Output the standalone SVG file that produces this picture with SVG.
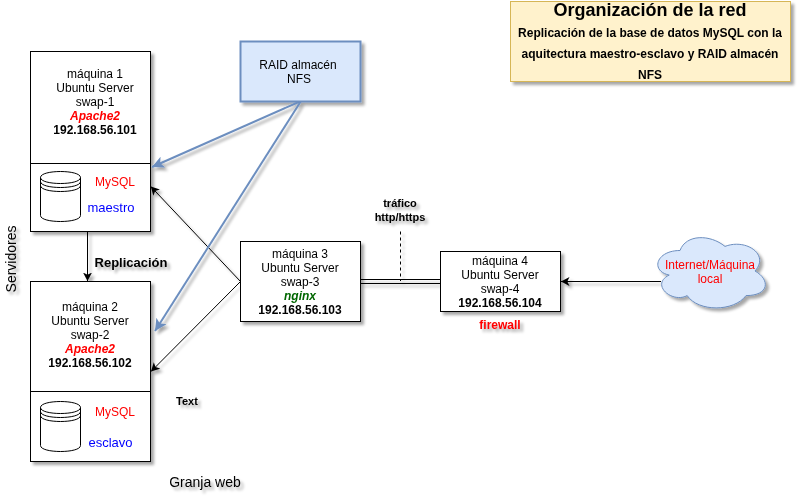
<svg xmlns="http://www.w3.org/2000/svg" width="797" height="498" viewBox="0 0 797 498">
<style>
text{font-family:"Liberation Sans",Arial,sans-serif;font-size:12px;fill:#000;text-anchor:middle}
.b{font-weight:bold}
.box{fill:#fff;stroke:#000;stroke-width:1}
.ln{fill:none;stroke:#000;stroke-width:1}
.blue{fill:none;stroke:#6c8ebf;stroke-width:2}
.red{fill:#f00}
.cyl{fill:#fff;stroke:#000;stroke-width:1}
</style>
<defs>
<filter id="sh" x="-5%" y="-5%" width="110%" height="110%">
<feGaussianBlur in="SourceAlpha" stdDeviation="1.7"/>
<feOffset dx="3" dy="3"/>
<feComponentTransfer><feFuncA type="linear" slope="0.35"/></feComponentTransfer>
<feMerge><feMergeNode/><feMergeNode in="SourceGraphic"/></feMerge>
</filter>
<marker id="a" markerUnits="userSpaceOnUse" markerWidth="10" markerHeight="10" refX="8.500" refY="5" orient="auto"><path d="M0 0.500L8.500 5L0 9.500L2.200 5Z" fill="#000"/></marker>
<marker id="ab" markerUnits="userSpaceOnUse" markerWidth="14" markerHeight="14" refX="12" refY="6" orient="auto"><path d="M0 0L12 6L0 12L3 6Z" fill="#6c8ebf"/></marker>
</defs>
<g filter="url(#sh)">
<g id="connectors">
<path class="ln" d="M87.500 231.500V281" marker-end="url(#a)"/>
<path class="ln" d="M240.500 281.500L150.800 186.500" marker-end="url(#a)"/>
<path class="ln" d="M240.500 281.500L151 371.500" marker-end="url(#a)"/>
<path class="ln" d="M360.500 279.500H440.500M360.500 283.500H440.500"/>
<path class="ln" d="M400.500 231.500V281" stroke-dasharray="3 3"/>
<path class="ln" d="M661 281.500H561" marker-end="url(#a)"/>
<path class="blue" d="M301 101L152 167" marker-end="url(#ab)"/>
<path class="blue" d="M301 101L155 331" marker-end="url(#ab)"/>
</g>
<g id="maquina1">
<rect class="box" x="30.500" y="51.500" width="120" height="180"/>
<path class="ln" d="M30.500 163.500H150.500"/>
<text x="95" y="78">máquina 1</text><text x="95" y="92">Ubuntu Server</text><text x="95" y="106">swap-1</text>
<text x="95" y="120" class="b red" font-style="italic">Apache2</text><text x="95" y="134" class="b">192.168.56.101</text>
<path class="cyl" d="M40.500 177.500C40.500 169.500 80.500 169.500 80.500 177.500V215.500C80.500 223.500 40.500 223.500 40.500 215.500Z"/>
<path class="ln" d="M40.500 177.500C40.500 185.500 80.500 185.500 80.500 177.500M40.500 181.500C40.500 189.500 80.500 189.500 80.500 181.500M40.500 185.500C40.500 193.500 80.500 193.500 80.500 185.500"/>
<text x="115" y="186" class="red">MySQL</text><text x="111" y="212" style="fill:#00f;font-size:13px">maestro</text>
</g>
<g id="maquina2">
<rect class="box" x="30.500" y="281.500" width="120" height="180"/>
<path class="ln" d="M30.500 391.500H150.500"/>
<text x="90" y="311">máquina 2</text><text x="90" y="325">Ubuntu Server</text><text x="90" y="339">swap-2</text>
<text x="90" y="353" class="b red" font-style="italic">Apache2</text><text x="90" y="367" class="b">192.168.56.102</text>
<path class="cyl" d="M40.500 407.500C40.500 399.500 80.500 399.500 80.500 407.500V445.500C80.500 453.500 40.500 453.500 40.500 445.500Z"/>
<path class="ln" d="M40.500 407.500C40.500 415.500 80.500 415.500 80.500 407.500M40.500 411.500C40.500 419.500 80.500 419.500 80.500 411.500M40.500 415.500C40.500 423.500 80.500 423.500 80.500 415.500"/>
<text x="115" y="416" class="red">MySQL</text><text x="110.500" y="447" style="fill:#00f;font-size:13px">esclavo</text>
</g>
<g id="maquina3">
<rect class="box" x="240.500" y="241.500" width="120" height="80"/>
<text x="300" y="258">máquina 3</text><text x="300" y="272">Ubuntu Server</text><text x="300" y="286">swap-3</text>
<text x="300" y="300" class="b" font-style="italic" style="fill:#006600">nginx</text><text x="300" y="314" class="b">192.168.56.103</text>
</g>
<g id="maquina4">
<rect class="box" x="440.500" y="251.500" width="120" height="60"/>
<text x="500" y="265">máquina 4</text><text x="500" y="279">Ubuntu Server</text><text x="500" y="293">swap-4</text>
<text x="500" y="307" class="b">192.168.56.104</text>
</g>
<g id="raid">
<rect x="240.500" y="41.500" width="120" height="60" fill="#dae8fc" stroke="#6c8ebf" stroke-width="2"/>
<text x="298" y="69">RAID almacén</text><text x="299" y="83">NFS</text>
</g>
<g id="cloud">
<path d="M680 250.500C656 250.500 650 271 669.200 275.100C650 284.100 671.600 303.800 687.200 295.600C698 312 734 312 746 295.600C770 295.600 770 279.200 755 271C770 254.600 746 238.200 725 246.400C710 234.100 686 234.100 680 250.500Z" fill="#dae8fc" stroke="#6c8ebf"/>
<text x="710" y="269" class="red">Internet/Máquina</text><text x="710" y="283" class="red">local</text>
</g>
<g id="titulo">
<rect x="510.500" y="1.500" width="280" height="80" fill="#fff2cc" stroke="#d6b656"/>
<text x="650" y="16" class="b" style="font-size:18px">Organización de la red</text>
<text x="650" y="37" class="b">Replicación de la base de datos MySQL con la</text>
<text x="650" y="58" class="b">aquitectura maestro-esclavo y RAID almacén</text>
<text x="650" y="79" class="b">NFS</text>
</g>
<g id="etiquetas">
<text x="131" y="267" class="b" style="font-size:13px">Replicación</text>
<text x="187" y="405" class="b" style="font-size:11px">Text</text>
<text x="205" y="487" style="font-size:14px">Granja web</text>
<text x="400" y="207" class="b" style="font-size:11px">tráfico</text>
<text x="400" y="221" class="b" style="font-size:11px">http/https</text>
<text x="500" y="329" class="b red">firewall</text>
<text transform="translate(16 259) rotate(-90)" style="font-size:14px">Servidores</text>
</g>
</g>
</svg>
